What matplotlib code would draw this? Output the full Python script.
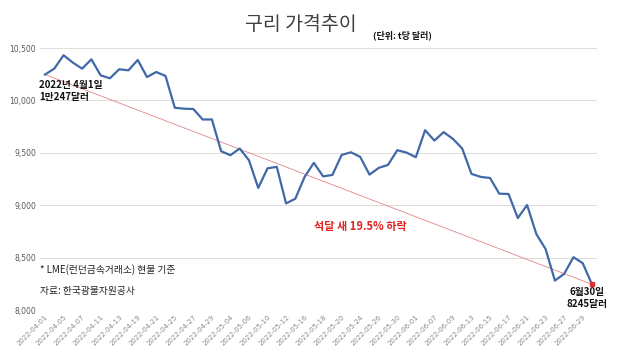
import matplotlib.pyplot as plt

plt.rcParams['font.family'] = ['Noto Sans CJK KR', 'DejaVu Sans']

dates = ["2022-04-01", "2022-04-04", "2022-04-05", "2022-04-06", "2022-04-07", "2022-04-08",
         "2022-04-11", "2022-04-12", "2022-04-13", "2022-04-14", "2022-04-19", "2022-04-20",
         "2022-04-21", "2022-04-22", "2022-04-25", "2022-04-26", "2022-04-27", "2022-04-28",
         "2022-04-29", "2022-05-03", "2022-05-04", "2022-05-05", "2022-05-06", "2022-05-09",
         "2022-05-10", "2022-05-11", "2022-05-12", "2022-05-13", "2022-05-16", "2022-05-17",
         "2022-05-18", "2022-05-19", "2022-05-20", "2022-05-23", "2022-05-24", "2022-05-25",
         "2022-05-26", "2022-05-27", "2022-05-30", "2022-05-31", "2022-06-01", "2022-06-06",
         "2022-06-07", "2022-06-08", "2022-06-09", "2022-06-10", "2022-06-13", "2022-06-14",
         "2022-06-15", "2022-06-16", "2022-06-17", "2022-06-20", "2022-06-21", "2022-06-22",
         "2022-06-23", "2022-06-24", "2022-06-27", "2022-06-28", "2022-06-29", "2022-06-30"]

prices = [10247, 10303, 10431, 10361, 10303, 10392, 10239, 10211, 10297, 10287,
          10386, 10223, 10271, 10233, 9930, 9921, 9918, 9818, 9818, 9515,
          9477, 9541, 9429, 9165, 9352, 9366, 9017, 9062, 9270, 9404,
          9275, 9289, 9480, 9505, 9461, 9292, 9356, 9385, 9525, 9502,
          9458, 9716, 9617, 9697, 9633, 9541, 9299, 9270, 9260, 9110,
          9107, 8877, 9002, 8724, 8581, 8281, 8345, 8504, 8447, 8245]

yticks = [8000, 8500, 9000, 9500, 10000, 10500]

fig = plt.figure(figsize=(6.3, 3.53), dpi=100)
ax = fig.add_axes([0.0641, 0.1218, 0.8829, 0.7422])

x = list(range(len(prices)))
ax.plot(x, prices, color="#4169a8", lw=1.6, zorder=3)

# trend line from first to last value
ax.plot([x[0], x[-1]], [prices[0], prices[-1]], color="#e38585", lw=0.6, zorder=2)
ax.plot([x[-1]], [prices[-1]], marker="s", ms=2.5, color="#e03030", zorder=4)

ax.set_xlim(-0.5, len(prices) - 0.5)
ax.set_ylim(8000, 10500)
ax.set_yticks(yticks)
ax.set_yticklabels([f"{v:,}" for v in yticks], fontsize=5.5, color="#595959",
                   family=['DejaVu Sans'])
ax.set_xticks(x[::2])
ax.set_xticklabels(dates[::2], rotation=45, ha="right", rotation_mode="anchor",
                   fontsize=5, color="#8c8c8c", family=['DejaVu Sans'])
ax.tick_params(length=0, pad=3)
ax.grid(axis="y", color="#dcdcdc", lw=0.7)
ax.set_axisbelow(True)
for s in ax.spines.values():
    s.set_visible(False)

fig.text(0.478, 0.93, "구리 가격추이", ha="center", va="center", fontsize=14, color="#404040")
fig.text(0.592, 0.90, "(단위: t당 달러)", ha="left", va="center", fontsize=6.5,
         fontweight="bold", color="#111111")

ax.text(-0.6, 10090, "2022년 4월1일\n1만247달러", ha="left", va="center", fontsize=7,
        fontweight="bold", color="#111111", linespacing=1.2)
ax.text(58.5, 8215, "6월30일\n8245달러", ha="center", va="top", fontsize=7,
        fontweight="bold", color="#111111", linespacing=1.2)
ax.text(29, 8800, "석달 새 19.5% 하락", ha="left", va="center", fontsize=8,
        fontweight="bold", color="#e02424")
ax.text(-0.5, 8385, "* LME(런던금속거래소) 현물 기준", ha="left", va="center",
        fontsize=7, color="#222222")
ax.text(-0.5, 8185, "자료: 한국광물자원공사", ha="left", va="center",
        fontsize=7, color="#222222")

fig.savefig("out.png", dpi=100)
